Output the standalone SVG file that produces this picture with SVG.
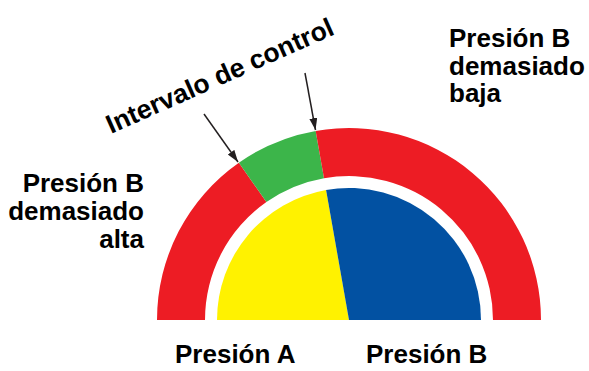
<svg xmlns="http://www.w3.org/2000/svg" width="589" height="371" viewBox="0 0 589 371">
<defs>
<style>
.lbl{font-family:"Liberation Sans",Arial,sans-serif;font-weight:bold;font-size:26px;fill:#000}
.red{fill:#ED1C24}.green{fill:#3CB54A}.yellow{fill:#FFF200}.blue{fill:#0251A2}
.arr{stroke:#231F20;stroke-width:1.5;fill:none;marker-end:url(#ah)}
</style>
<marker id="ah" markerUnits="userSpaceOnUse" markerWidth="14" markerHeight="10" refX="12" refY="4" orient="auto">
<path d="M0,0 L12,4 L0,8 Z" fill="#231F20"/>
</marker>
</defs>
<rect width="589" height="371" fill="#fff"/>
<g id="gauge">
<path id="ring-high" class="red" d="M157,320 A192,192 0 0 1 238.87,162.72 L266.4,202.04 A144,144 0 0 0 205,320 Z"/>
<path id="ring-control" class="green" d="M238.87,162.72 A192,192 0 0 1 315.66,130.92 L324,178.19 A144,144 0 0 0 266.4,202.04 Z"/>
<path id="ring-low" class="red" d="M315.66,130.92 A192,192 0 0 1 541,320 L493,320 A144,144 0 0 0 324,178.19 Z"/>
<path id="pressure-a" class="yellow" d="M217,320 A132,132 0 0 1 326.08,190 L349,320 Z"/>
<path id="pressure-b" class="blue" d="M326.08,190 A132,132 0 0 1 481,320 L349,320 Z"/>
</g>
<g id="connectors">
<line class="arr" x1="204" y1="114" x2="238" y2="162"/>
<line class="arr" x1="305" y1="73" x2="315.5" y2="130"/>
</g>
<g id="label-control">
<text class="lbl" style="font-size:26.5px" transform="translate(111,134) rotate(-24)">Intervalo de control</text>
</g>
<g id="label-high">
<text class="lbl" text-anchor="end"><tspan x="144" y="192">Presión B</tspan><tspan x="144" y="220">demasiado</tspan><tspan x="144" y="248">alta</tspan></text>
</g>
<g id="label-low">
<text class="lbl"><tspan x="449" y="47">Presión B</tspan><tspan x="449" y="74.5">demasiado</tspan><tspan x="449" y="102">baja</tspan></text>
</g>
<g id="label-a"><text class="lbl" x="175" y="363">Presión A</text></g>
<g id="label-b"><text class="lbl" x="366" y="363">Presión B</text></g>
</svg>
